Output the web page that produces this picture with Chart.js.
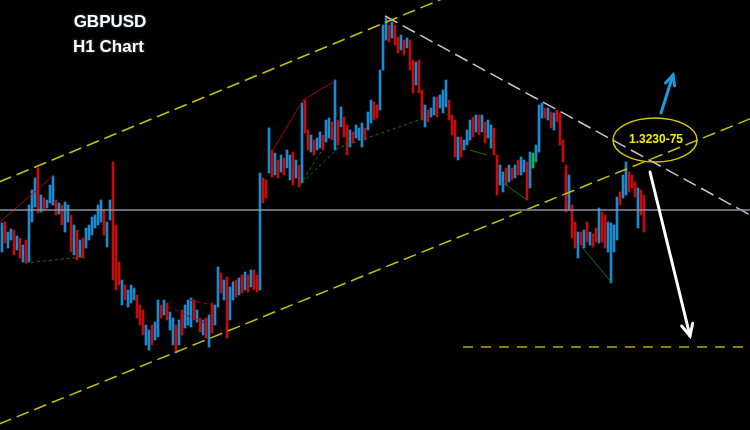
<!DOCTYPE html>
<html><head><meta charset="utf-8">
<script src="https://cdn.jsdelivr.net/npm/chart.js@4.4.1/dist/chart.umd.min.js"></script>
<style>html,body{margin:0;padding:0;background:#000;}canvas{display:block;}</style>
</head><body>
<canvas id="c" width="750" height="430"></canvas>
<script>
const titleLines = ["GBPUSD", "H1 Chart"];
const targetLabel = "1.3230-75";

const highs = [
1.3187,1.3188,1.3178,1.3181,1.3180,1.3174,1.3172,1.3165,1.3170,1.3205,
1.3220,1.3232,1.3242,1.3215,1.3212,1.3210,1.3225,1.3234,1.3210,1.3207,
1.3205,1.3208,1.3205,1.3195,1.3185,1.3180,1.3170,1.3172,1.3182,1.3185,
1.3193,1.3195,1.3205,1.3210,1.3200,1.3188,1.3210,1.3248,1.3185,1.3148,
1.3130,1.3125,1.3120,1.3125,1.3122,1.3115,1.3105,1.3100,1.3085,1.3080,
1.3085,1.3088,1.3110,1.3105,1.3110,1.3107,1.3098,1.3092,1.3085,1.3090,
1.3100,1.3105,1.3110,1.3112,1.3110,1.3100,1.3092,1.3090,1.3092,1.3095,
1.3107,1.3105,1.3143,1.3137,1.3130,1.3133,1.3123,1.3128,1.3130,1.3132,
1.3135,1.3138,1.3135,1.3140,1.3140,1.3135,1.3237,1.3232,1.3230,1.3282,
1.3260,1.3257,1.3250,1.3255,1.3252,1.3260,1.3255,1.3258,1.3250,1.3245,
1.3307,1.3310,1.3280,1.3275,1.3270,1.3272,1.3278,1.3275,1.3290,1.3292,
1.3288,1.3330,1.3290,1.3303,1.3293,1.3285,1.3280,1.3278,1.3285,1.3282,
1.3287,1.3282,1.3298,1.3310,1.3308,1.3305,1.3340,1.3385,1.3392,1.3385,
1.3388,1.3385,1.3373,1.3375,1.3370,1.3372,1.3370,1.3350,1.3348,1.3350,
1.3320,1.3305,1.3300,1.3302,1.3313,1.3313,1.3315,1.3320,1.3330,1.3310,
1.3295,1.3290,1.3273,1.3273,1.3270,1.3280,1.3290,1.3293,1.3295,1.3295,
1.3295,1.3288,1.3290,1.3285,1.3282,1.3255,1.3245,1.3238,1.3242,1.3245,
1.3242,1.3245,1.3250,1.3253,1.3250,1.3248,1.3258,1.3257,1.3265,1.3305,
1.3307,1.3302,1.3302,1.3298,1.3297,1.3300,1.3297,1.3270,1.3245,1.3235,
1.3205,1.3188,1.3178,1.3178,1.3180,1.3188,1.3178,1.3176,1.3182,1.3202,
1.3198,1.3195,1.3188,1.3187,1.3185,1.3213,1.3218,1.3235,1.3248,1.3238,
1.3235,1.3228,1.3222,1.3220,1.3215];

const lows = [
1.3158,1.3167,1.3162,1.3170,1.3155,1.3160,1.3152,1.3148,1.3147,1.3148,
1.3188,1.3203,1.3197,1.3198,1.3200,1.3202,1.3207,1.3205,1.3195,1.3196,
1.3185,1.3178,1.3188,1.3158,1.3155,1.3150,1.3153,1.3152,1.3162,1.3170,
1.3175,1.3182,1.3185,1.3188,1.3175,1.3163,1.3190,1.3130,1.3120,1.3125,
1.3105,1.3110,1.3103,1.3107,1.3110,1.3092,1.3085,1.3075,1.3065,1.3060,
1.3065,1.3070,1.3073,1.3092,1.3095,1.3090,1.3080,1.3065,1.3057,1.3065,
1.3075,1.3082,1.3085,1.3083,1.3090,1.3088,1.3078,1.3075,1.3072,1.3063,
1.3077,1.3085,1.3103,1.3117,1.3110,1.3072,1.3090,1.3110,1.3113,1.3115,
1.3117,1.3120,1.3118,1.3123,1.3120,1.3118,1.3120,1.3207,1.3212,1.3237,
1.3233,1.3235,1.3232,1.3238,1.3235,1.3242,1.3230,1.3225,1.3232,1.3223,
1.3227,1.3277,1.3260,1.3258,1.3255,1.3260,1.3262,1.3260,1.3268,1.3272,
1.3270,1.3260,1.3265,1.3283,1.3273,1.3255,1.3263,1.3267,1.3272,1.3270,
1.3263,1.3270,1.3280,1.3287,1.3290,1.3292,1.3300,1.3340,1.3370,1.3368,
1.3372,1.3365,1.3357,1.3360,1.3355,1.3362,1.3340,1.3317,1.3325,1.3317,
1.3290,1.3283,1.3288,1.3293,1.3295,1.3293,1.3302,1.3297,1.3303,1.3290,
1.3275,1.3253,1.3250,1.3253,1.3260,1.3265,1.3270,1.3273,1.3278,1.3275,
1.3278,1.3267,1.3272,1.3262,1.3255,1.3215,1.3225,1.3218,1.3225,1.3228,
1.3230,1.3232,1.3235,1.3235,1.3238,1.3210,1.3222,1.3242,1.3248,1.3258,
1.3292,1.3292,1.3290,1.3282,1.3280,1.3288,1.3265,1.3248,1.3198,1.3200,
1.3172,1.3162,1.3152,1.3165,1.3162,1.3168,1.3165,1.3163,1.3168,1.3167,
1.3168,1.3162,1.3158,1.3127,1.3158,1.3170,1.3205,1.3212,1.3215,1.3218,
1.3222,1.3213,1.3182,1.3195,1.3178];

// B = bullish (blue), R = bearish (red), G = green marker bar
const dirs = ("BRBBRBRBRB" + "BBRBRBBBRB" + "RBBRBRBRBB" + "BBBBRBBRRR" + "BRBBBRRRBB" +
              "RBBRBRBBRB" + "RBBBRBRBRB" + "RBBRBRBBRB" + "RBRBRRBRRB" + "RBRBRBBRBR" +
              "BRRBRBBRBB" + "RBRBRRBRBB" + "BRBBRRBBBR" + "BRRBRBRRBR" + "RBRBBRBBBR" +
              "RRBRBBBRBR" + "BRBBRRBBRB" + "RBRBBRBGBB" + "BRBRBRRRRB" + "RRBRBRBRRB" +
              "RRBBBBRBBR" + "RRBRR").split("");

// trend lines: [bar index, price]
const channelUpper = [[-1, 1.3228], [250, 1.3539]];
const channelLower = [[-1, 1.2986], [250, 1.3292]];
const resistance = [[127.67, 1.3394], [250, 1.3194]];
const pivotLevel = [[-1, 1.3200], [250, 1.3200]];
const supportLevel = [[153.67, 1.3063], [250, 1.3063]];
const redSwings = [[[-0.67, 1.3188], [17, 1.3234]], [[89.33, 1.3255], [100.33, 1.3310], [111, 1.3329]]];
const redDashed = [[[55.33, 1.3103], [67.67, 1.3087]], [[62.67, 1.3110], [70, 1.3105]]];
const greenDashed = [[[7.67, 1.3147], [26.67, 1.3153]], [[99.33, 1.3225], [106.67, 1.3260]], [[100, 1.3227], [112, 1.3262], [142, 1.3293]]];
const greenSolid = [[[156, 1.3260], [161.67, 1.3255]], [[167, 1.3227], [175, 1.3210]], [[193.33, 1.3163], [203.33, 1.3127]]];
const ellipseAt = [217.67, 1.3270];
const upArrow = [[219.67, 1.3297], [223.67, 1.3335]];
const downArrow = [[216, 1.3238], [229.33, 1.3074]];

const colorMap = { B: '#1b8bd0', R: '#c80a0a', G: '#18c018' };

const pts = a => a.map(p => ({ x: p[0], y: p[1] }));
function lineDs(a, color, width, dash) {
  return { type: 'line', data: pts(a), borderColor: color, borderWidth: width, borderDash: dash || [],
           pointRadius: 0, tension: 0, fill: false, order: 0 };
}

const datasets = [
  { type: 'bar', order: 10,
    data: highs.map((h, i) => ({ x: i, y: [lows[i], h] })),
    backgroundColor: dirs.map(d => colorMap[d]), borderWidth: 0, barThickness: 2 },
  lineDs(pivotLevel, '#8a929e', 1.5),
  lineDs(channelUpper, '#c8c200', 1.5, [13, 6]),
  lineDs(channelLower, '#c8c200', 1.5, [13, 6]),
  lineDs(resistance, '#c8c8c8', 1.5, [14, 6]),
  lineDs(supportLevel, '#b8a400', 1.5, [10, 8]),
];
redSwings.forEach(s => datasets.push(lineDs(s, '#b00000', 1)));
redDashed.forEach(s => datasets.push(lineDs(s, '#b00000', 1, [4, 3])));
greenDashed.forEach(s => datasets.push(lineDs(s, '#0a7a0a', 1, [3, 3])));
greenSolid.forEach(s => datasets.push(lineDs(s, '#0a7a0a', 1)));

function arrow(ctx, x0, y0, x1, y1, color, w, head) {
  const a = Math.atan2(y1 - y0, x1 - x0);
  ctx.save();
  ctx.strokeStyle = color; ctx.fillStyle = color; ctx.lineWidth = w; ctx.lineCap = 'round';
  ctx.beginPath(); ctx.moveTo(x0, y0); ctx.lineTo(x1, y1); ctx.stroke();
  ctx.beginPath();
  ctx.moveTo(x1 - head * Math.cos(a - 0.45), y1 - head * Math.sin(a - 0.45));
  ctx.lineTo(x1, y1);
  ctx.lineTo(x1 - head * Math.cos(a + 0.45), y1 - head * Math.sin(a + 0.45));
  ctx.stroke();
  ctx.restore();
}

const decor = {
  id: 'decor',
  beforeDraw(chart) {
    const ctx = chart.ctx;
    ctx.save(); ctx.fillStyle = '#000'; ctx.fillRect(0, 0, chart.width, chart.height); ctx.restore();
  },
  afterDatasetsDraw(chart) {
    const ctx = chart.ctx, xs = chart.scales.x, ys = chart.scales.y;
    const X = v => xs.getPixelForValue(v), Y = v => ys.getPixelForValue(v);
    // ellipse + label
    const cx = X(ellipseAt[0]), cy = Y(ellipseAt[1]);
    ctx.save();
    ctx.strokeStyle = '#d2c800'; ctx.lineWidth = 1.5;
    ctx.beginPath(); ctx.ellipse(cx, cy, 42, 22, 0, 0, Math.PI * 2); ctx.stroke();
    ctx.fillStyle = '#f2ee00'; ctx.font = "bold 12px 'Liberation Sans', Arial, sans-serif";
    ctx.textAlign = 'center'; ctx.textBaseline = 'alphabetic';
    ctx.fillText(targetLabel, cx + 1, cy + 3);
    ctx.restore();
    arrow(ctx, X(upArrow[0][0]), Y(upArrow[0][1]), X(upArrow[1][0]), Y(upArrow[1][1]), '#1e9be0', 3, 11);
    arrow(ctx, X(downArrow[0][0]), Y(downArrow[0][1]), X(downArrow[1][0]), Y(downArrow[1][1]), '#ffffff', 3, 13);
    // title
    ctx.save();
    ctx.font = "bold 17px 'Liberation Sans', Arial, sans-serif";
    ctx.textAlign = 'center'; ctx.textBaseline = 'alphabetic';
    ctx.lineWidth = 3; ctx.strokeStyle = '#101820';
    ctx.fillStyle = '#ffffff';
    ctx.strokeText(titleLines[0], 110, 27); ctx.fillText(titleLines[0], 110, 27);
    ctx.strokeText(titleLines[1], 108.5, 52); ctx.fillText(titleLines[1], 108.5, 52);
    ctx.restore();
  }
};

new Chart(document.getElementById('c'), {
  type: 'bar',
  data: { datasets },
  options: {
    responsive: false, animation: false, devicePixelRatio: 1,
    layout: { padding: 0 },
    plugins: { legend: { display: false }, tooltip: { enabled: false } },
    scales: {
      x: { type: 'linear', min: -2 / 3, max: 250 - 2 / 3, display: false, offset: false },
      y: { min: 1.2980, max: 1.3410, display: false }
    }
  },
  plugins: [decor]
});
</script>
</body></html>
